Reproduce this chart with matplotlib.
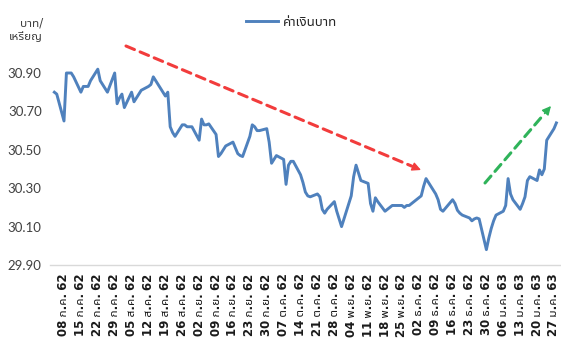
import matplotlib
matplotlib.use('Agg')
import matplotlib.pyplot as plt
import numpy as np
import pandas as pd
from matplotlib import font_manager
from matplotlib.ft2font import FT2Font

# ---------------- data ----------------
start_date = '2019-07-04'
end_date = '2020-01-28'

baht = [
    30.80, 30.79,
    30.65, 30.90, 30.90, 30.90, 30.88,
    30.80, 30.83, 30.83, 30.83, 30.86,
    30.92, 30.86, 30.84, 30.82, 30.80,
    30.90, 30.74, 30.77, 30.79, 30.72,
    30.80, 30.75, 30.77, 30.79, 30.81,
    30.83, 30.84, 30.88, 30.86, 30.84,
    30.78, 30.80, 30.62, 30.59, 30.57,
    30.63, 30.63, 30.62, 30.62, 30.62,
    30.55, 30.66, 30.63, 30.63, 30.635,
    30.58, 30.465, 30.48, 30.50, 30.52,
    30.54, 30.51, 30.48, 30.47, 30.465,
    30.57, 30.63, 30.62, 30.60, 30.60,
    30.61, 30.54, 30.43, 30.45, 30.47,
    30.45, 30.32, 30.42, 30.44, 30.44,
    30.37, 30.33, 30.28, 30.26, 30.255,
    30.27, 30.255, 30.19, 30.17, 30.19,
    30.23, 30.18, 30.14, 30.10, 30.14,
    30.26, 30.36, 30.42, 30.38, 30.34,
    30.325, 30.22, 30.18, 30.25, 30.23,
    30.18, 30.19, 30.20, 30.21, 30.21,
    30.21, 30.20, 30.21, 30.21, 30.22,
    30.25, 30.26, 30.31, 30.35, 30.33,
    30.27, 30.24, 30.19, 30.18, 30.195,
    30.24, 30.22, 30.185, 30.17, 30.16,
    30.145, 30.13, 30.14, 30.145, 30.14,
    29.98, 30.04, 30.09, 30.13, 30.16,
    30.18, 30.21, 30.35, 30.27, 30.24,
    30.19, 30.22, 30.255, 30.34, 30.36,
    30.34, 30.395, 30.37, 30.40, 30.55,
    30.61, 30.64,
]

tick_dates = pd.date_range('2019-07-08', periods=30, freq='7D')
tick_labels = [
    '08 ก.ค. 62', '15 ก.ค. 62', '22 ก.ค. 62', '29 ก.ค. 62',
    '05 ส.ค. 62', '12 ส.ค. 62', '19 ส.ค. 62', '26 ส.ค. 62',
    '02 ก.ย. 62', '09 ก.ย. 62', '16 ก.ย. 62', '23 ก.ย. 62', '30 ก.ย. 62',
    '07 ต.ค. 62', '14 ต.ค. 62', '21 ต.ค. 62', '28 ต.ค. 62',
    '04 พ.ย. 62', '11 พ.ย. 62', '18 พ.ย. 62', '25 พ.ย. 62',
    '02 ธ.ค. 62', '09 ธ.ค. 62', '16 ธ.ค. 62', '23 ธ.ค. 62', '30 ธ.ค. 62',
    '06 ม.ค. 63', '13 ม.ค. 63', '20 ม.ค. 63', '27 ม.ค. 63',
]
y_ticks = [29.90, 30.10, 30.30, 30.50, 30.70, 30.90]
series_name = 'ค่าเงินบาท'
y_title = 'บาท/\nเหรียญ'


# ---------------- fonts ----------------
def find_thai_font():
    cands = []
    seen = set()
    for f in font_manager.fontManager.ttflist:
        if f.fname in seen:
            continue
        seen.add(f.fname)
        try:
            ft = FT2Font(f.fname)
            ok = all(ft.get_char_index(ord(c)) for c in 'ค่าเงินบาทเหรียญ')
        except Exception:
            ok = False
        if ok:
            cands.append(f)
    if not cands:
        return None

    def score(f):
        s = 0
        n = f.name.lower()
        if 'noto sans thai' in n:
            s += 10
        if 'looped' in n:
            s -= 5
        if str(f.weight) in ('normal', '400', 'regular'):
            s += 3
        if f.style == 'normal':
            s += 2
        return s
    cands.sort(key=score, reverse=True)
    return cands[0].name


thai = find_thai_font()
fam = ([thai] if thai else []) + ['DejaVu Sans']
plt.rcParams['font.family'] = fam

# ---------------- figure ----------------
W, H = 561, 345
fig = plt.figure(figsize=(W / 100, H / 100), dpi=100)
ax = fig.add_axes([50 / W, 80 / H, 510 / W, 230.4 / H])

dates = pd.bdate_range(start_date, end_date)
assert len(dates) == len(baht)
line, = ax.plot(dates, baht, color='#4f81bd', lw=2.1, solid_joinstyle='round',
                label=series_name)

ax.set_ylim(29.90, 31.10)
ax.set_yticks(y_ticks)
ax.set_yticklabels([f'{v:.2f}' for v in y_ticks], color='#404040', fontsize=9.5,
                   family=['Lato', 'DejaVu Sans'])
ax.set_xlim(dates[0] - pd.Timedelta(days=1.8), dates[-1] + pd.Timedelta(days=1.5))
ax.set_xticks(tick_dates)
ax.set_xticklabels(tick_labels, rotation=90, fontsize=8.5, color='#1a1a1a',
                   fontweight='bold')
ax.tick_params(axis='both', length=0)
ax.tick_params(axis='x', pad=6)
ax.tick_params(axis='y', pad=6)
for s in ('left', 'right', 'top'):
    ax.spines[s].set_visible(False)
ax.spines['bottom'].set_color('#d9d9d9')
ax.spines['bottom'].set_linewidth(1.0)

# y title
fig.text(43 / W, 1 - 30 / H, y_title, ha='right', va='center', fontsize=8.5,
         color='#404040', linespacing=1.1, multialignment='right')

# legend
ax.legend(handles=[line], loc='center', bbox_to_anchor=(292 / W, 1 - 22 / H),
          bbox_transform=fig.transFigure, frameon=False, fontsize=9.5,
          handlelength=2.4, handletextpad=0.4, labelcolor='#262626')

# trend arrows (annotations, in figure pixels)
def trend_arrow(p0, p1, color):
    p0 = (p0[0], H - p0[1])
    p1 = (p1[0], H - p1[1])
    d = np.array(p1) - np.array(p0)
    d = d / np.hypot(*d)
    mid = (p1[0] - d[0] * 10, p1[1] - d[1] * 10)
    ax.annotate('', xy=mid, xytext=p0, xycoords='figure pixels',
                textcoords='figure pixels',
                arrowprops=dict(arrowstyle='-', color=color, lw=2.2,
                                linestyle=(0, (3, 2)), shrinkA=0, shrinkB=0))
    ax.annotate('', xy=p1, xytext=mid, xycoords='figure pixels',
                textcoords='figure pixels',
                arrowprops=dict(arrowstyle='-|>', color=color, lw=1.0,
                                mutation_scale=13, shrinkA=0, shrinkB=0))

trend_arrow((126, 46), (421, 170), '#f23c3c')
trend_arrow((485, 183), (551, 106), '#2fb35a')

fig.savefig('out.png', dpi=100)
